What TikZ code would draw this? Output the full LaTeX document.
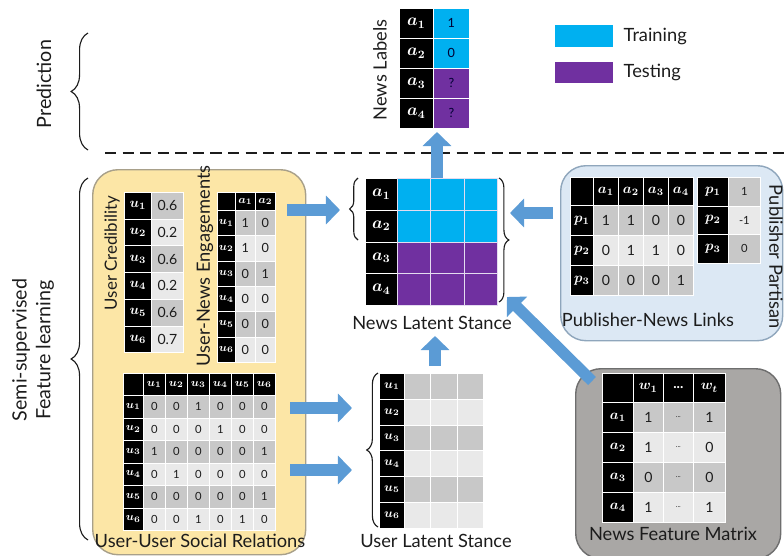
\documentclass[tikz,border=0pt]{standalone}
\usepackage{fontspec}
\setmainfont{Lato}
\usepackage{bm}
\usetikzlibrary{arrows.meta, decorations.pathreplacing, positioning}

\definecolor{train}{HTML}{00B0F0}
\definecolor{test}{HTML}{7030A0}
\definecolor{gridln}{HTML}{E4DCF0}
\definecolor{userbg}{HTML}{FCE6A6}
\definecolor{userline}{HTML}{A8A08A}
\definecolor{pubbg}{HTML}{DCE8F4}
\definecolor{publine}{HTML}{8FA6BC}
\definecolor{featbg}{HTML}{A9A7A5}
\definecolor{featline}{HTML}{6E6E6E}
\definecolor{flow}{HTML}{5B9BD5}
\definecolor{cellA}{HTML}{C8C8C8}
\definecolor{cellB}{HTML}{E9E9E9}
\definecolor{ink}{HTML}{1C1C1C}

\newcommand{\keyv}[2]{$\bm{#1}_{\bm{#2}}$}

\tikzset{
  wh/.style 2 args={minimum width=#1*0.025cm, minimum height=#2*0.025cm},
  cell/.style={draw=white, line width=0.5pt, inner sep=0pt, anchor=north west, text=ink},
  key/.style={cell, fill=black, text=white},
  panel/.style={draw, line width=1pt, rounded corners=18pt, anchor=north west},
  title/.style={text=ink, inner sep=1pt, font=\fontsize{13}{15}\selectfont},
  flowarrow/.style={draw=flow, line width=8pt, -{Triangle[width=20pt,length=10pt]}},
  sidebrace/.style={decorate, decoration={brace, amplitude=#1}, line width=0.8pt, draw=ink},
  sidebrace/.default=6pt,
}

\begin{document}
\begin{tikzpicture}[x=0.025cm, y=-0.025cm]
\useasboundingbox (0,0) rectangle (784,555);

% panels
\node[panel, draw=userline, fill=userbg, wh={213}{385}] (userbox) at (92,169) {};
\node[panel, draw=publine, fill=pubbg, wh={222}{175}] (pubbox) at (560,165) {};
\node[panel, draw=featline, fill=featbg, wh={205}{190}] (featbox) at (575,368) {};

% prediction / learning split
\coordinate (sepL) at (105,153);
\coordinate (sepR) at (784,153);
\draw[ink, line width=2pt, dash pattern=on 8pt off 4.5pt] (sepL) -- (sepR);

\coordinate (predT) at (88,33);
\coordinate (predB) at (88,150);
\draw[sidebrace=12pt] (predB) -- (predT);
\node[title, rotate=90, font=\fontsize{14}{16}\selectfont] (predlbl) at (44,84) {Prediction};

\coordinate (semiT) at (88,178);
\coordinate (semiB) at (88,540);
\draw[sidebrace=12pt] (semiB) -- (semiT);
\node[title, rotate=90, align=center, font=\fontsize{14}{17}\selectfont] (semilbl) at (33,350) {Semi-supervised\\Feature learning};

% legend
\node[fill=train, wh={58}{22}, inner sep=0pt, anchor=north west] (legtrain) at (555,25) {};
\node[fill=test, wh={58}{21}, inner sep=0pt, anchor=north west] (legtest) at (555,62) {};
\node[title, anchor=west, right=6pt of legtrain] (legtrainlbl) {Training};
\node[title, anchor=west, right=6pt of legtest] (legtestlbl) {Testing};

% news labels
\foreach \v [count=\i] in {1,0,?,?} {
  \pgfmathsetmacro\y{8+30*(\i-1)}
  \ifnum\i<3\relax\def\cellfill{train}\else\def\cellfill{test}\fi
  \node[key, wh={34}{30}, font=\large] (lab-k\i) at (399,\y) {\keyv{a}{\i}};
  \node[cell, fill=\cellfill, wh={36}{30}, text=black!80!blue, font=\small] (lab-v\i) at (433,\y) {\v};
}
\node[title, rotate=90] (lablbl) at (380,70) {News Labels};

% news latent stance
\foreach \i in {1,...,4} {
  \pgfmathsetmacro\y{178+31.75*(\i-1)}
  \ifnum\i<3\relax\def\cellfill{train}\else\def\cellfill{test}\fi
  \node[key, wh={32}{31.75}, font=\large] (nls-k\i) at (365,\y) {\keyv{a}{\i}};
  \foreach \j in {1,2,3} {
    \pgfmathsetmacro\x{397+33.3*(\j-1)}
    \node[cell, draw=gridln, line width=0.8pt, fill=\cellfill, wh={33.3}{31.75}] (nls-\i-\j) at (\x,\y) {};
  }
}
\node[title] (nlslbl) at (432,323) {News Latent Stance};
\coordinate (nlsLT) at (358,178);
\coordinate (nlsLB) at (358,240);
\draw[sidebrace=6pt] (nlsLB) -- (nlsLT);
\coordinate (nlsRT) at (499,178);
\coordinate (nlsRB) at (499,302);
\draw[sidebrace=7pt] (nlsRT) -- (nlsRB);

% user latent stance
\foreach \i in {1,...,6} {
  \pgfmathsetmacro\y{373+25.8*(\i-1)}
  \ifodd\i\relax\def\cellfill{cellA}\else\def\cellfill{cellB}\fi
  \node[key, wh={25}{25.8}, font=\small] (uls-k\i) at (379,\y) {\keyv{u}{\i}};
  \foreach \j in {1,2,3} {
    \pgfmathsetmacro\x{404+26.3*(\j-1)}
    \node[cell, fill=\cellfill, wh={26.3}{25.8}] (uls-\i-\j) at (\x,\y) {};
  }
}
\node[title] (ulslbl) at (436,541) {User Latent Stance};
\coordinate (ulsT) at (378,373);
\coordinate (ulsB) at (378,527);
\draw[sidebrace=8pt] (ulsB) -- (ulsT);

% user credibility
\foreach \v [count=\i] in {0.6,0.2,0.6,0.2,0.6,0.7} {
  \pgfmathsetmacro\y{192+26.7*(\i-1)}
  \ifodd\i\relax\def\cellfill{cellA}\else\def\cellfill{cellB}\fi
  \node[key, wh={27}{26.7}] (cred-k\i) at (124,\y) {\keyv{u}{\i}};
  \node[cell, fill=\cellfill, wh={32}{26.7}] (cred-v\i) at (151,\y) {\v};
}
\node[title, rotate=90, font=\fontsize{12}{14}\selectfont] (credlbl) at (112,253) {User Credibility};

% user-news engagements
\node[key, wh={18}{18}] (eng-c) at (217,192) {};
\foreach \j in {1,2} {
  \pgfmathsetmacro\x{235+20*(\j-1)}
  \node[key, wh={20}{18}, font=\footnotesize] (eng-h\j) at (\x,192) {\keyv{a}{\j}};
}
\foreach \r/\s [count=\i] in {1/0,1/0,0/1,0/0,0/0,0/0} {
  \pgfmathsetmacro\y{210+25.3*(\i-1)}
  \ifodd\i\relax\def\cellfill{cellA}\else\def\cellfill{cellB}\fi
  \node[key, wh={18}{25.3}, font=\footnotesize] (eng-k\i) at (217,\y) {\keyv{u}{\i}};
  \node[cell, fill=\cellfill, wh={20}{25.3}, font=\small] (eng-\i-1) at (235,\y) {\r};
  \node[cell, fill=\cellfill, wh={20}{25.3}, font=\small] (eng-\i-2) at (255,\y) {\s};
}
\node[title] [rotate=90] (englbl) at (205,266) {User-News Engagements};

% user-user social relations
\node[key, wh={20}{22}] (soc-c) at (123,373) {};
\foreach \j in {1,...,6} {
  \pgfmathsetmacro\x{143+22*(\j-1)}
  \node[key, wh={22}{22}, font=\footnotesize] (soc-h\j) at (\x,373) {\keyv{u}{\j}};
}
\foreach \row [count=\i] in {{0,0,1,0,0,0},{0,0,0,1,0,0},{1,0,0,0,0,1},{0,1,0,0,0,0},{0,0,0,0,0,1},{0,0,1,0,1,0}} {
  \pgfmathsetmacro\y{395+22.5*(\i-1)}
  \ifodd\i\relax\def\cellfill{cellA}\else\def\cellfill{cellB}\fi
  \node[key, wh={20}{22.5}, font=\footnotesize] (soc-k\i) at (123,\y) {\keyv{u}{\i}};
  \foreach \v [count=\j] in \row {
    \pgfmathsetmacro\x{143+22*(\j-1)}
    \node[cell, fill=\cellfill, wh={22}{22.5}, font=\footnotesize] (soc-\i-\j) at (\x,\y) {\v};
  }
}
\node[title] (soclbl) at (200,541) {User-User Social Relations};

% publisher-news links
\node[key, wh={23}{28}] (pub-c) at (570,177) {};
\foreach \j in {1,...,4} {
  \pgfmathsetmacro\x{593+25*(\j-1)}
  \node[key, wh={25}{28}] (pub-h\j) at (\x,177) {\keyv{a}{\j}};
}
\foreach \row [count=\i] in {{1,1,0,0},{0,1,1,0},{0,0,0,1}} {
  \pgfmathsetmacro\y{205+30*(\i-1)}
  \ifodd\i\relax\def\cellfill{cellA}\else\def\cellfill{cellB}\fi
  \node[key, wh={23}{30}] (pub-k\i) at (570,\y) {\keyv{p}{\i}};
  \foreach \v [count=\j] in \row {
    \pgfmathsetmacro\x{593+25*(\j-1)}
    \node[cell, fill=\cellfill, wh={25}{30}] (pub-\i-\j) at (\x,\y) {\v};
  }
}
\node[title] (publbl) at (648,320) {Publisher-News Links};

% publisher partisan
\foreach \v [count=\i] in {1,-1,0} {
  \pgfmathsetmacro\y{177+28.5*(\i-1)}
  \ifodd\i\relax\def\cellfill{cellA}\else\def\cellfill{cellB}\fi
  \node[key, wh={31}{28.5}] (par-k\i) at (697,\y) {\keyv{p}{\i}};
  \node[cell, fill=\cellfill, wh={32}{28.5}, font=\footnotesize] (par-v\i) at (728,\y) {\v};
}
\node[title, rotate=-90] (parlbl) at (776,257) {Publisher Partisan};

% news feature matrix
\node[key, wh={31}{29}] (feat-c) at (602,373) {};
\node[key, wh={30}{29}] (feat-h1) at (633,373) {\keyv{w}{1}};
\node[key, wh={30}{29}] (feat-h2) at (663,373) {\bfseries ...};
\node[key, wh={32}{29}] (feat-h3) at (693,373) {\keyv{w}{t}};
\foreach \r/\s [count=\i] in {1/1,1/0,0/0,1/1} {
  \pgfmathsetmacro\y{402+30*(\i-1)}
  \ifodd\i\relax\def\cellfill{cellA}\else\def\cellfill{cellB}\fi
  \node[key, wh={31}{30}] (feat-k\i) at (602,\y) {\keyv{a}{\i}};
  \node[cell, fill=\cellfill, wh={30}{30}] (feat-\i-1) at (633,\y) {\r};
  \node[cell, fill=\cellfill, wh={30}{30}, font=\tiny] (feat-\i-2) at (663,\y) {...};
  \node[cell, fill=\cellfill, wh={32}{30}] (feat-\i-3) at (693,\y) {\s};
}
\node[title] (featlbl) at (673,534) {News Feature Matrix};

% flow between blocks
\coordinate (engOut) at (287,210);
\coordinate (nlsIn) at (340,210);
\coordinate (pubOut) at (553,213);
\coordinate (pubIn) at (510,213);
\coordinate (featOut) at (592,381);
\coordinate (featIn) at (507,297);
\coordinate (socOutA) at (290,408);
\coordinate (ulsInA) at (352,408);
\coordinate (socOutB) at (290,470);
\coordinate (ulsInB) at (352,470);
\coordinate (ulsOut) at (435,366);
\coordinate (nlsUp) at (435,336);
\coordinate (nlsOut) at (437,178);
\coordinate (labIn) at (437,132);
\draw[flowarrow] (engOut) -- (nlsIn);
\draw[flowarrow] (pubOut) -- (pubIn);
\draw[flowarrow] (featOut) -- (featIn);
\draw[flowarrow] (socOutA) -- (ulsInA);
\draw[flowarrow] (socOutB) -- (ulsInB);
\draw[flowarrow] (ulsOut) -- (nlsUp);
\draw[flowarrow] (nlsOut) -- (labIn);
\end{tikzpicture}
\end{document}
